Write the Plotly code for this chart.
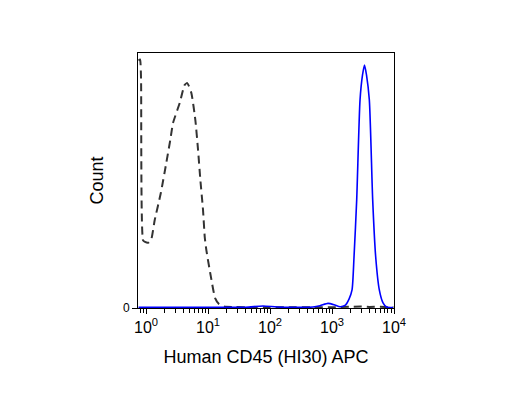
import plotly.graph_objects as go

# Isotype / unstained control (dashed)
ctrl_x = [0.757, 0.80, 0.83, 0.895, 0.963, 1.08, 1.20, 1.38, 1.73, 2.12, 2.46, 2.72, 3.49,
          4.20, 4.63, 5.38, 6.24, 6.90, 7.52, 8.30, 8.85, 9.39, 11.2, 13.0, 15.0,
          18.1, 27.2, 50, 100, 200, 500, 1000, 2000, 3000, 4000, 6000, 9800]
ctrl_y = [97.0, 97.5, 90.0, 26.5, 25.9, 25.6, 26.5, 34.5, 45.1, 56.9, 65.9, 72.5, 80.4,
          87.5, 88.2, 84.3, 73.7, 62.0, 50.2, 38.4, 27.8, 22.7, 11.8, 3.9, 1.6,
          0.6, 0.4, 0.3, 0.3, 0.3, 0.3, 0.3, 0.5, 0.6, 0.4, 0.5, 0.3]

# CD45 stained (solid blue)
cd45_x = [0.757, 5, 40, 77, 130, 300, 494, 640, 861, 1077, 1346, 1622, 1881, 2104, 2265,
          2502, 2831, 3105, 3342, 3599, 3999, 4531, 5067, 5796, 6650, 7574, 9640]
cd45_y = [0.3, 0.3, 0.3, 0.8, 0.4, 0.3, 0.4, 0.9, 1.8, 1.3, 0.5, 1.0, 3.5, 7.1, 20.0,
          42.4, 81.6, 91.4, 95.3, 91.4, 81.6, 42.4, 20.0, 7.1, 2.0, 0.4, 0.2]

major_ticks = [1, 10, 100, 1000, 10000]
major_text = ["10<sup>0</sup>", "10<sup>1</sup>", "10<sup>2</sup>", "10<sup>3</sup>", "10<sup>4</sup>"]
minor_ticks = [m * 10 ** d for d in range(-1, 4) for m in range(2, 10) if m * 10 ** d > 0.76]

fig = go.Figure()
fig.add_trace(go.Scatter(x=ctrl_x, y=ctrl_y, mode="lines",
                         line=dict(color="#333333", width=2, dash="8px,5px", shape="spline", smoothing=0.5),
                         showlegend=False))
fig.add_trace(go.Scatter(x=cd45_x, y=cd45_y, mode="lines",
                         line=dict(color="#0000ff", width=1.6, shape="spline", smoothing=0.6),
                         showlegend=False))

fig.update_layout(
    width=528, height=396,
    margin=dict(l=130, r=142, t=45, b=96),
    paper_bgcolor="white", plot_bgcolor="white",
    font=dict(family="Liberation Sans, Arial, sans-serif", color="black"),
)
fig.update_xaxes(
    type="log", range=[-0.13, 4.0],
    tickvals=major_ticks, ticktext=major_text,
    ticks="outside", ticklen=5, tickcolor="black", tickwidth=1,
    minor=dict(tickvals=minor_ticks, ticks="outside", ticklen=4, tickcolor="black"),
    showline=True, linecolor="black", linewidth=1, mirror=True,
    showgrid=False, zeroline=False,
    tickfont=dict(size=16),
    title=dict(text="Human CD45 (HI30) APC", font=dict(size=18), standoff=15),
)
fig.update_yaxes(
    range=[0, 100],
    tickvals=[0], ticktext=["0"],
    ticks="outside", ticklen=5, tickcolor="black",
    showline=True, linecolor="black", linewidth=1, mirror=True,
    showgrid=False, zeroline=False,
    tickfont=dict(size=12),
    title=dict(text="Count", font=dict(size=18), standoff=14),
)

fig.write_html("out.html")
